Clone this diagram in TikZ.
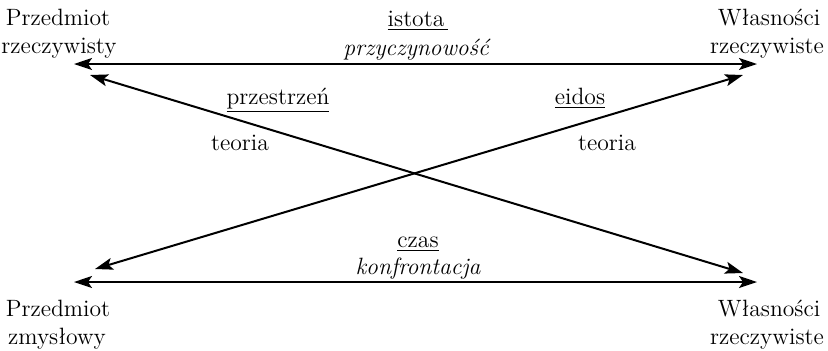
\documentclass[tikz,border=0pt]{standalone}
\usetikzlibrary{arrows.meta}
\begin{document}
\begin{tikzpicture}[x=0.5pt,y=-0.5pt,
  lbl/.style={inner sep=0pt,anchor=base,font=\fontsize{11.8}{14}\selectfont},
  tip/.style={Stealth[length=9pt,width=6pt,inset=2pt]},
  link/.style={line width=1pt,{Stealth[length=9pt,width=6pt,inset=2pt]}-{Stealth[length=9pt,width=6pt,inset=2pt]}}]
\useasboundingbox (0,0) rectangle (828,350);
% corner labels
\node[lbl] (pr1) at (58,25) {Przedmiot};
\node[lbl] (pr2) at (59,53) {rzeczywisty};
\node[lbl] (wr1) at (769,25) {Własności};
\node[lbl] (wr2) at (767,53) {rzeczywiste};
\node[lbl] (pz1) at (58,316) {Przedmiot};
\node[lbl] (pz2) at (57,344) {zmysłowy};
\node[lbl] (wz1) at (769,316) {Własności};
\node[lbl] (wz2) at (767,344) {rzeczywiste};
% arrow end points
\coordinate (tl) at (74,64);
\coordinate (tr) at (757,64);
\coordinate (bl) at (74,282);
\coordinate (br) at (757,282);
\coordinate (dtl) at (90,75);
\coordinate (dbr) at (743,273);
\coordinate (dbl) at (95,269);
\coordinate (dtr) at (743,75);
% connectors
\draw[link] (tl) -- (tr);
\draw[link] (bl) -- (br);
\draw[link] (dtl) -- (dbr);
\draw[link] (dbl) -- (dtr);
% edge labels
\node[lbl] (ist) at (418,26) {\underline{istota\,}};
\node[lbl] (prz) at (416,55) {\itshape przyczynowość};
\node[lbl] (psz) at (278,104) {\underline{przestrzeń}};
\node[lbl] (eid) at (580,104) {\underline{eidos}};
\node[lbl] (t1) at (240,150) {teoria};
\node[lbl] (t2) at (607,150) {teoria};
\node[lbl] (czs) at (418,247) {\underline{czas}};
\node[lbl] (kon) at (418,274) {\itshape konfrontacja};
\end{tikzpicture}
\end{document}
